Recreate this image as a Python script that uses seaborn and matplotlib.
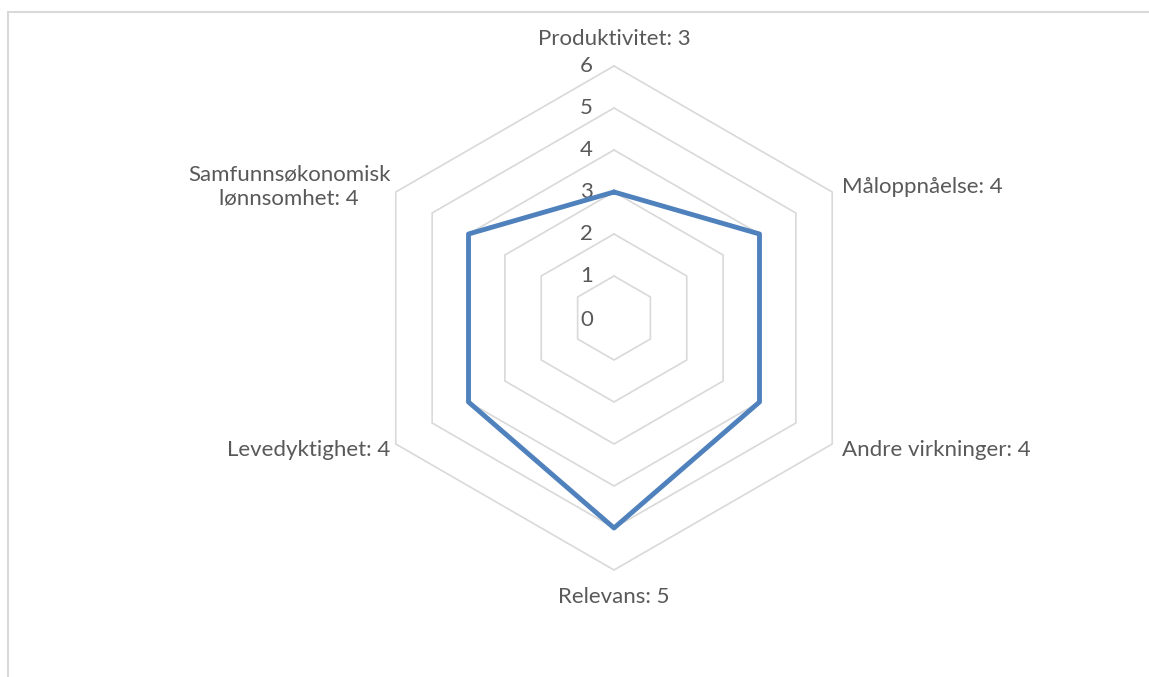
import numpy as np
import pandas as pd
import matplotlib
matplotlib.use("Agg")
import matplotlib.pyplot as plt
from matplotlib.lines import Line2D
import seaborn as sns

categories = ["Produktivitet", "Måloppnåelse", "Andre virkninger", "Relevans",
              "Levedyktighet", "Samfunnsøkonomisk\nlønnsomhet"]
values = [3, 4, 4, 5, 4, 4]
ticks = [0, 1, 2, 3, 4, 5, 6]

sns.set_style("white")
plt.rcParams["font.family"] = ["Lato", "DejaVu Sans"]

W, H = 1149, 677
fig = plt.figure(figsize=(W / 100, H / 100), dpi=100)
ax = fig.add_axes([0, 0, 1, 1])
unit = 42.0
cx, cy = 614, 318
ax.set_xlim(-cx / unit, (W - cx) / unit)
ax.set_ylim(-(H - cy) / unit, cy / unit)
ax.set_aspect("equal")
ax.axis("off")

n = len(categories)
ang = np.pi / 2 - np.arange(n) * 2 * np.pi / n  # clockwise from top


def to_xy(r):
    r = np.asarray(r, dtype=float)
    a = np.append(ang, ang[0])
    rr = np.append(r, r[0])
    return rr * np.cos(a), rr * np.sin(a)

grid_col = "#d9d9d9"
txt_col = "#595959"
fs = 16
for t in ticks[1:]:
    gx, gy = to_xy([t] * n)
    ax.plot(gx, gy, color=grid_col, lw=1.2, zorder=1)

for t in ticks:
    ax.text(-0.5, t - (0.05 if t == 0 else 0), str(t), ha="right", va="center",
            fontsize=fs, color=txt_col)

dx, dy = to_xy(values)
df = pd.DataFrame({"x": dx, "y": dy, "i": np.arange(len(dx))})
sns.lineplot(data=df, x="x", y="y", sort=False, estimator=None, ax=ax,
             color="#4f81bd", lw=3.5, zorder=3)
ax.set_xlabel("")
ax.set_ylabel("")

lab_r = 6.0
for i, (c, v) in enumerate(zip(categories, values)):
    text = f"{c}: {v}"
    a = ang[i]
    x, y = lab_r * np.cos(a), lab_r * np.sin(a)
    kw = dict(fontsize=fs, color=txt_col, va="center")
    if i == 0:
        ax.text(0, y + 0.64, text, ha="center", **kw)
    elif i == 3:
        ax.text(0, y - 0.65, text, ha="center", **kw)
    elif i in (1, 2):
        ax.text(x + 0.24, y + (0.12 if i == 1 else -0.15), text, ha="left", **kw)
    else:
        ax.text(x - 0.13, y + (0.12 if i == 5 else -0.15), text, ha="right",
                multialignment="center", linespacing=1.25, **kw)

fy = 1 - 12 / H
fx = 8 / W
fig.add_artist(Line2D([fx, 1], [fy, fy], transform=fig.transFigure, color=grid_col, lw=1.5))
fig.add_artist(Line2D([fx, fx], [0, fy], transform=fig.transFigure, color=grid_col, lw=1.5))

fig.savefig("out.png", dpi=100, facecolor="white")
